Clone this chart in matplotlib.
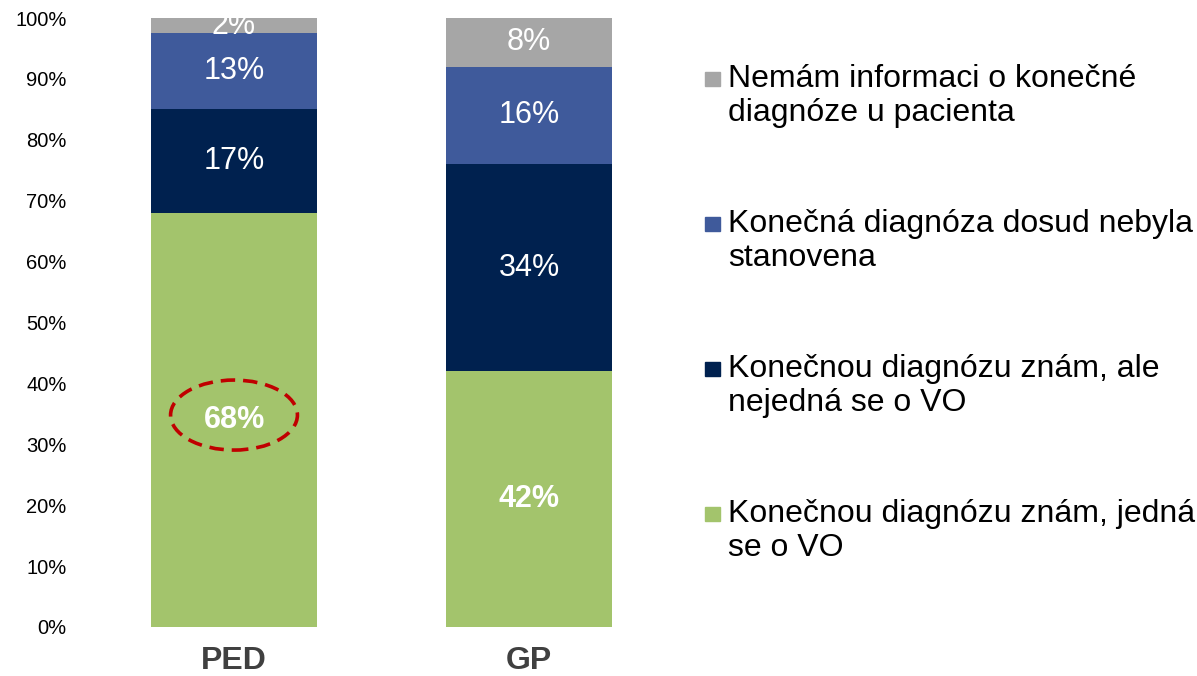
import matplotlib
matplotlib.use("Agg")
import matplotlib.pyplot as plt
from matplotlib.patches import Ellipse, Rectangle
import numpy as np

plt.rcParams['font.family'] = ['Liberation Sans', 'DejaVu Sans']

categories = ["PED", "GP"]
series_names = [
    "Konečnou diagnózu znám, jedná\nse o VO",
    "Konečnou diagnózu znám, ale\nnejedná se o VO",
    "Konečná diagnóza dosud nebyla\nstanovena",
    "Nemám informaci o konečné\ndiagnóze u pacienta",
]
values = {
    "PED": [68, 17, 12.5, 2.5],
    "GP": [42, 34, 16, 8],
}
labels = {
    "PED": ["68%", "17%", "13%", "2%"],
    "GP": ["42%", "34%", "16%", "8%"],
}
colors = ["#A3C46C", "#00214F", "#3F5A9B", "#A6A6A6"]
bold_series = [True, False, False, False]
yticks = [0, 10, 20, 30, 40, 50, 60, 70, 80, 90, 100]

fig = plt.figure(figsize=(11.97, 6.76), dpi=100)
ax = fig.add_axes([75/1197, 49/676, 613/1197, 609/676])

x = np.arange(len(categories))
width = 0.563
bottoms = np.zeros(len(categories))
for si in range(len(series_names)):
    vals = np.array([values[c][si] for c in categories])
    ax.bar(x, vals, width, bottom=bottoms, color=colors[si], edgecolor='none', zorder=2)
    for ci, c in enumerate(categories):
        t = ax.text(x[ci], bottoms[ci] + vals[ci] / 2, labels[c][si],
                    ha='center', va='center', color='white', fontsize=22,
                    fontweight='bold' if bold_series[si] else 'normal', zorder=4)
        t.set_clip_on(True)
    bottoms += vals

# dashed highlight ellipse around PED 68%
ell = Ellipse((0, 34.8), 0.43, 11.5, fill=False, edgecolor='#C00000',
              linewidth=2.6, linestyle=(0, (4, 2.2)), zorder=5)
ax.add_patch(ell)

ax.set_xlim(-0.539, 1.539)
ax.set_ylim(0, 100)
ax.set_yticks(yticks)
ax.set_yticklabels([f"{v}%" for v in yticks], fontsize=14.5, color='black')
ax.set_xticks(x)
ax.set_xticklabels(categories, fontsize=23, fontweight='bold', color='#404040')
ax.tick_params(axis='y', length=0, pad=6)
ax.tick_params(axis='x', length=0, pad=14)
for s in ax.spines.values():
    s.set_visible(False)

# legend (reverse order, marker aligned to first line)
baselines = [86.7, 231.7, 376.7, 521.7]
line_step = 34
order = [3, 2, 1, 0]
W, H = 1197, 676
for b, si in zip(baselines, order):
    fig.patches.append(Rectangle((705/W, 1 - (b - 1)/H), 15/W, 14/H,
                                 transform=fig.transFigure, color=colors[si]))
    for li, line in enumerate(series_names[si].split("\n")):
        fig.text(728/W, 1 - (b + li * line_step)/H, line, fontsize=23, ha='left',
                 va='baseline', color='black')

fig.savefig("out.png", dpi=100)
